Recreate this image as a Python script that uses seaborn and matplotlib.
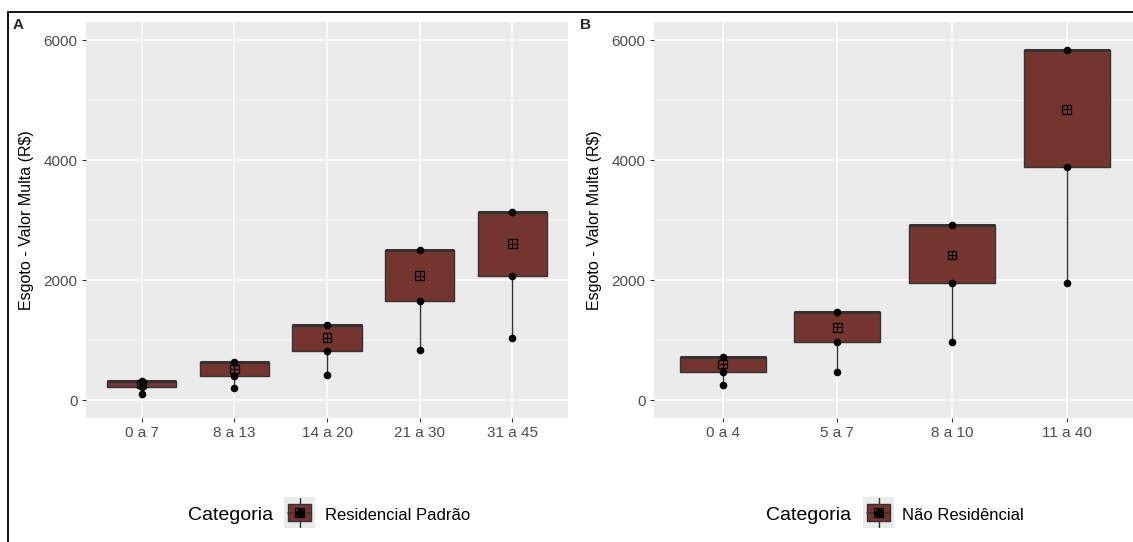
import numpy as np
import pandas as pd
import seaborn as sns
import matplotlib
matplotlib.use("Agg")
from matplotlib import pyplot as plt
from matplotlib.patches import Rectangle

# Panel A - Residencial Padrão
cats_a = ["0 a 7", "8 a 13", "14 a 20", "21 a 30", "31 a 45"]
min_a = [100, 205, 410, 830, 1035]
q1_a = [210, 405, 825, 1655, 2075]
max_a = [310, 630, 1250, 2500, 3130]
mean_a = [265, 515, 1040, 2075, 2605]

# Panel B - Não Residêncial
cats_b = ["0 a 4", "5 a 7", "8 a 10", "11 a 40"]
min_b = [250, 475, 965, 1945]
q1_b = [470, 960, 1945, 3885]
max_b = [720, 1460, 2915, 5830]
mean_b = [600, 1210, 2420, 4845]

legend_a = "Residencial Padrão"
legend_b = "Não Residêncial"
ylabel = "Esgoto - Valor Multa (R$)"

BOX = "#74352F"
EDGE = "#333333"
W, H = 1133, 542

sns.set_theme(style="darkgrid")
plt.rcParams["font.family"] = ["Liberation Sans", "DejaVu Sans"]
plt.rcParams["axes.facecolor"] = "#EBEBEB"


def box_table(cats, mins, q1s, maxs):
    # five values per group give min / Q1 / median=Q3=max in seaborn's quartiles
    rows = []
    for c, lo, q, hi in zip(cats, mins, q1s, maxs):
        for v in (lo, q, hi, hi, hi):
            rows.append({"faixa": c, "valor": v})
    return pd.DataFrame(rows)


def point_table(cats, mins, q1s, maxs):
    rows = []
    for c, lo, q, hi in zip(cats, mins, q1s, maxs):
        for v in (lo, q, hi):
            rows.append({"faixa": c, "valor": v})
    return pd.DataFrame(rows)


def panel(ax, cats, mins, q1s, maxs, means, xmax):
    df = box_table(cats, mins, q1s, maxs)
    sns.boxplot(data=df, x="faixa", y="valor", order=cats, ax=ax, color=BOX,
                saturation=1, width=0.75, whis=(0, 100), showcaps=False,
                fliersize=0, linecolor=EDGE, linewidth=1,
                medianprops={"linewidth": 2.2, "color": EDGE},
                whiskerprops={"linewidth": 1, "color": EDGE})
    pts = point_table(cats, mins, q1s, maxs)
    sns.stripplot(data=pts, x="faixa", y="valor", order=cats, ax=ax,
                  jitter=False, color="black", size=5.5, zorder=5)
    xs = np.arange(len(cats))
    ax.scatter(xs, means, marker="s", s=38, facecolors="none",
               edgecolors="black", linewidths=0.9, zorder=6)
    ax.scatter(xs, means, marker="+", s=38, color="black",
               linewidths=0.8, zorder=6)
    ax.set_xlim(-0.6, xmax)
    ax.set_ylim(-300, 6300)
    ax.set_yticks([0, 2000, 4000, 6000])
    ax.set_yticks([1000, 3000, 5000], minor=True)
    ax.grid(True, which="major", color="white", linewidth=1.1)
    ax.grid(True, which="minor", axis="y", color="white", linewidth=0.5)
    ax.set_axisbelow(True)
    ax.set_xlabel("")
    ax.set_ylabel("")
    ax.tick_params(axis="both", which="major", labelsize=11, labelcolor="#4D4D4D",
                   length=3, width=0.8, color="#333333", pad=3, left=True, bottom=True)
    ax.tick_params(axis="y", which="minor", length=0)
    for s in ax.spines.values():
        s.set_visible(False)


def legend_key(fig, x0, label, cx_text, label_x):
    fig.text(cx_text / W, 1 - 515 / H, "Categoria", fontsize=14,
             ha="right", va="center", color="black")
    kax = fig.add_axes([x0 / W, 1 - 528 / H, 31 / W, 31 / H])
    kax.set_facecolor("#EBEBEB")
    kax.set_xlim(0, 1)
    kax.set_ylim(0, 1)
    kax.axis("off")
    kax.add_patch(Rectangle((0, 0), 1, 1, color="#EBEBEB", zorder=0))
    kax.plot([0.5, 0.5], [0.03, 0.97], color=EDGE, lw=1, zorder=1)
    kax.add_patch(Rectangle((0.12, 0.22), 0.76, 0.56, facecolor=BOX,
                            edgecolor=EDGE, lw=1, zorder=2))
    kax.plot([0.12, 0.88], [0.5, 0.5], color=EDGE, lw=1.2, zorder=3)
    kax.scatter([0.5], [0.5], s=30, color="black", zorder=4)
    kax.scatter([0.5], [0.5], marker="s", s=38, facecolors="none",
                edgecolors="black", linewidths=0.9, zorder=5)
    fig.text(label_x / W, 1 - 515 / H, label, fontsize=12,
             ha="left", va="center", color="black")


fig = plt.figure(figsize=(W / 100, H / 100), dpi=100)
ax_a = fig.add_axes([86 / W, 1 - 418 / H, (568 - 86) / W, (418 - 22) / H])
ax_b = fig.add_axes([654 / W, 1 - 418 / H, (1133 - 654) / W, (418 - 22) / H])

panel(ax_a, cats_a, min_a, q1_a, max_a, mean_a, 4.6)
panel(ax_b, cats_b, min_b, q1_b, max_b, mean_b, 3.58)

for x in (27, 595):
    fig.text(x / W, 1 - 220 / H, ylabel, rotation=90, fontsize=11.5,
             ha="center", va="center", color="black")

fig.text(13 / W, 1 - 25 / H, "A", fontsize=11, fontweight="bold", ha="left", va="center")
fig.text(580 / W, 1 - 25 / H, "B", fontsize=11, fontweight="bold", ha="left", va="center")

legend_key(fig, 284, legend_a, 273, 325)
legend_key(fig, 863, legend_b, 851, 902)

# outer frame
fig.patches.append(Rectangle((8 / W, -0.05), 1.2, (H - 12) / H + 0.05,
                             transform=fig.transFigure, fill=False,
                             edgecolor="black", lw=1.3, zorder=0))

fig.savefig("out.png", dpi=100, facecolor="white")
